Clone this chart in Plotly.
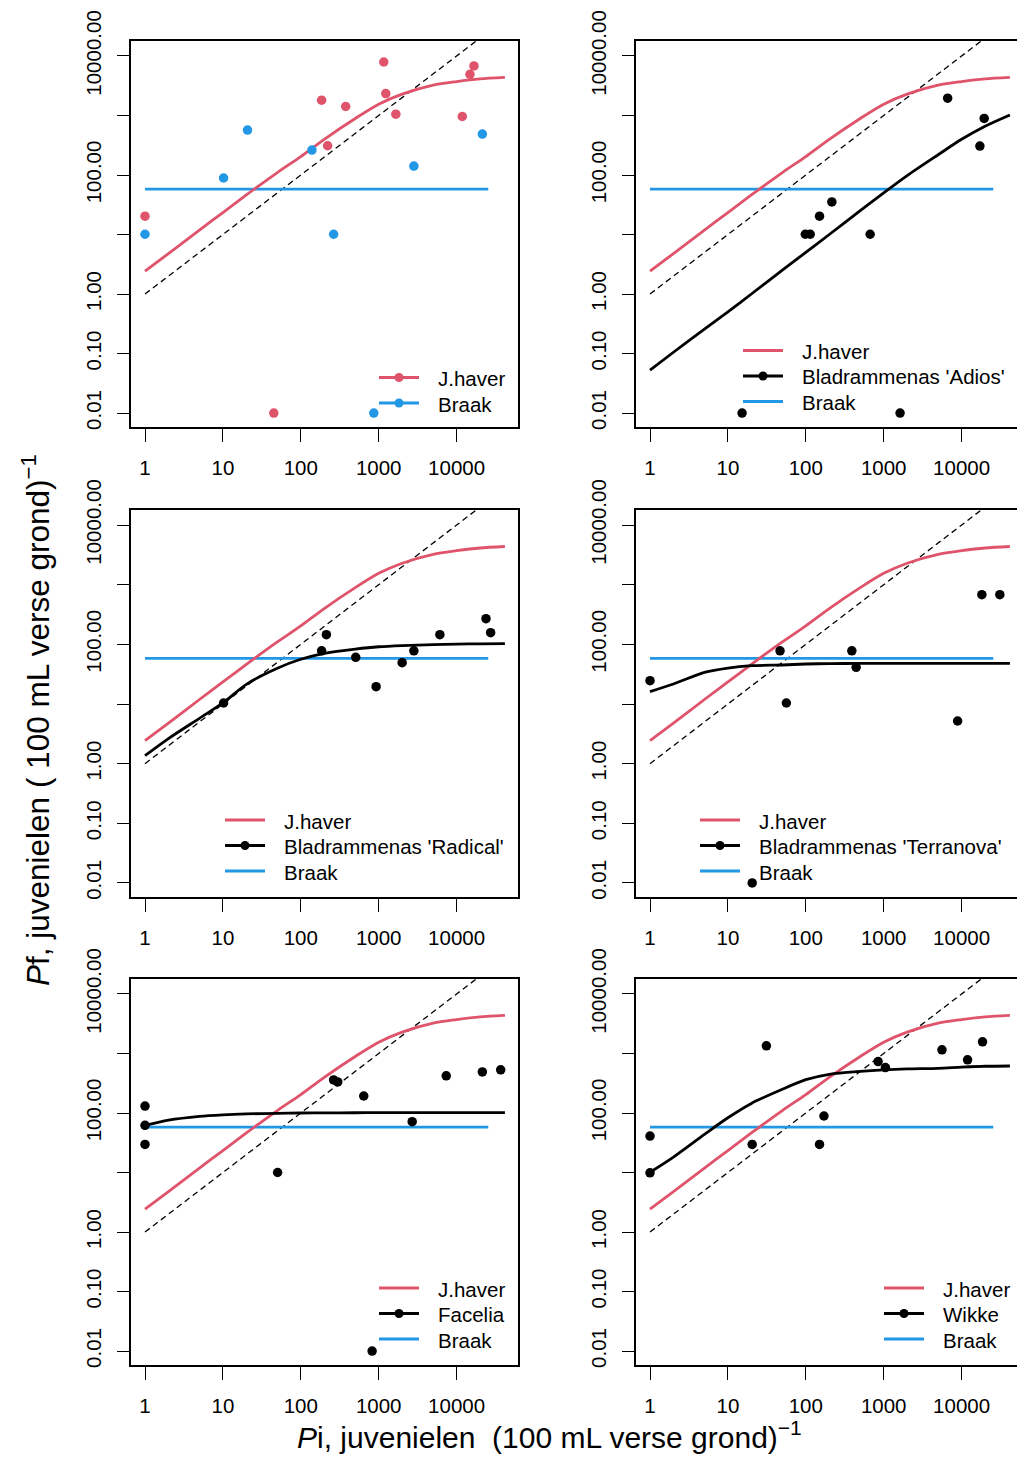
import plotly.graph_objects as go

# ---------------- data ----------------
# Pi sample grid used for the fitted response curves
PI_GRID = [1, 2, 5, 10, 20, 50, 100, 200, 500, 1000, 2000, 5000, 10000, 20000, 41700]

# fitted Pf curves on PI_GRID
JHAVER_FIT = [2.43, 4.79, 11.9, 23.4, 46.2, 110, 204, 398, 891, 1549, 2291, 3236, 3715, 4121, 4365]
ADIOS_FIT = [0.0525, 0.105, 0.257, 0.501, 1.0, 2.51, 5.01, 10.0, 25.1, 50.1, 97.7, 219, 398, 661, 1023]
RADICAL_FIT = [1.36, 2.63, 5.75, 10.4, 21.4, 39.8, 56.2, 70.8, 83.2, 91.2, 95.5, 98.9, 101, 102, 103]
TERRANOVA_FIT = [16.1, 21.6, 33.9, 40.1, 43.9, 45.1, 46.8, 47.6, 47.9, 48.1, 48.1, 48.1, 48.1, 48.1, 48.1]
FACELIA_FIT = [61.7, 75.9, 88.1, 93.3, 96.6, 98.9, 100, 100.7, 101, 101.2, 101.4, 101.4, 101.4, 101.4, 101.4]
WIKKE_FIT = [10.1, 18.2, 43.7, 83.2, 145, 251, 363, 447, 501, 531, 550, 562, 589, 610, 617]

# fallow (Braak) mean level and its Pi span
BRAAK_PI = [1, 25500]
BRAAK_PF = [58, 58]

# 1:1 reference line Pf = Pi
REF_PI = [1, 41700]
REF_PF = [1, 41700]

# observations (zero counts shown at 0.01)
JHAVER_PI = [1, 45, 185, 221, 377, 1162, 1233, 1660, 11830, 14840, 16700]
JHAVER_PF = [20.3, 0.01, 1807, 310, 1416, 7930, 2337, 1052, 962, 4930, 6800]
BRAAK_OBS_PI = [1, 10.2, 20.7, 139, 264, 865, 2827, 21400]
BRAAK_OBS_PF = [10.1, 89, 568, 262, 10.1, 0.01, 141, 487]
ADIOS_PI = [15.2, 98.6, 114, 150, 216, 670, 1623, 6620, 17170, 19500]
ADIOS_PF = [0.01, 10.1, 10.1, 20.3, 35.3, 10.1, 0.01, 1952, 306, 891]
RADICAL_PI = [10.2, 185, 213, 507, 926, 2000, 2827, 6100, 23840, 27350]
RADICAL_PF = [10.4, 78, 145, 60.5, 19.5, 49.3, 78, 145, 269, 157]
TERRANOVA_PI = [1, 20.5, 46.7, 56.3, 390, 443, 8890, 18200, 30970]
TERRANOVA_PF = [24.6, 0.01, 78, 10.4, 78, 41.2, 5.19, 680, 680]
FACELIA_PI = [1, 1, 1, 50.4, 264, 298, 643, 823, 2690, 7360, 21400, 36800]
FACELIA_PF = [131, 62, 29.6, 10, 360, 333, 193, 0.01, 71.4, 421, 491, 531]
WIKKE_PI = [1, 1, 20.5, 31.2, 150, 171, 848, 1052, 5600, 11930, 18570]
WIKKE_PF = [41, 9.9, 29.6, 1347, 29.6, 89, 733, 581, 1153, 782, 1573]

X_TICKS = [1, 10, 100, 1000, 10000]
X_TICKTEXT = ["1", "10", "100", "1000", "10000"]
Y_TICKS = [0.01, 0.1, 1, 100, 10000]
Y_TICKTEXT = ["0.01", "0.10", "1.00", "100.00", "10000.00"]
Y_UNLABELLED = [10, 1000]

# ---------------- style ----------------
W, H = 1017, 1459
RED = "#DF536B"
BLUE = "#2297E6"
BLACK = "#000000"
FONT = "Liberation Sans, Arial, sans-serif"
TICK_SIZE = 20.5

COLS = [(131, 518), (636, 1017)]      # panel box, pixels
ROWS = [(41, 427), (510, 897), (979, 1365)]
X_ONE = [145, 650]                     # pixel position of Pi = 1
DEC_X = 77.9                           # pixels per decade on x
Y_RANGE = [-2.235, 4.252]

panels = [
    dict(row=0, col=0, fit=None, pi=None, pf=None,
         legend=[("J.haver", RED, True), ("Braak", BLUE, True)], leg=(379, 377.5)),
    dict(row=0, col=1, fit=ADIOS_FIT, pi=ADIOS_PI, pf=ADIOS_PF,
         legend=[("J.haver", RED, False), ("Bladrammenas 'Adios'", BLACK, True), ("Braak", BLUE, False)],
         leg=(743, 350.5)),
    dict(row=1, col=0, fit=RADICAL_FIT, pi=RADICAL_PI, pf=RADICAL_PF,
         legend=[("J.haver", RED, False), ("Bladrammenas 'Radical'", BLACK, True), ("Braak", BLUE, False)],
         leg=(225, 820)),
    dict(row=1, col=1, fit=TERRANOVA_FIT, pi=TERRANOVA_PI, pf=TERRANOVA_PF,
         legend=[("J.haver", RED, False), ("Bladrammenas 'Terranova'", BLACK, True), ("Braak", BLUE, False)],
         leg=(700, 820)),
    dict(row=2, col=0, fit=FACELIA_FIT, pi=FACELIA_PI, pf=FACELIA_PF,
         legend=[("J.haver", RED, False), ("Facelia", BLACK, True), ("Braak", BLUE, False)],
         leg=(379, 1288)),
    dict(row=2, col=1, fit=WIKKE_FIT, pi=WIKKE_PI, pf=WIKKE_PF,
         legend=[("J.haver", RED, False), ("Wikke", BLACK, True), ("Braak", BLUE, False)],
         leg=(884, 1288)),
]


def px_x(x):
    return x / W


def px_y(y):
    return 1 - y / H


fig = go.Figure()
shapes = []
annotations = []

for i, p in enumerate(panels):
    n = i + 1
    sfx = "" if n == 1 else str(n)
    xref, yref = "x" + sfx, "y" + sfx
    c0, c1 = COLS[p["col"]]
    r0, r1 = ROWS[p["row"]]
    x_one = X_ONE[p["col"]]
    x_range = [-(x_one - c0) / DEC_X, (c1 - x_one) / DEC_X]

    # 1:1 line
    fig.add_trace(go.Scatter(x=REF_PI, y=REF_PF, mode="lines", xaxis=xref, yaxis=yref,
                             line=dict(color=BLACK, width=1.3, dash="6px,4px"),
                             showlegend=False, hoverinfo="skip"))
    # fallow level
    fig.add_trace(go.Scatter(x=BRAAK_PI, y=BRAAK_PF, mode="lines", xaxis=xref, yaxis=yref,
                             line=dict(color=BLUE, width=2.8), showlegend=False))
    # oat reference fit
    fig.add_trace(go.Scatter(x=PI_GRID, y=JHAVER_FIT, mode="lines", xaxis=xref, yaxis=yref,
                             line=dict(color=RED, width=2.8, shape="spline", smoothing=0.8),
                             showlegend=False))
    if p["fit"] is not None:
        fig.add_trace(go.Scatter(x=PI_GRID, y=p["fit"], mode="lines", xaxis=xref, yaxis=yref,
                                 line=dict(color=BLACK, width=2.8, shape="spline", smoothing=0.8),
                                 showlegend=False))
        fig.add_trace(go.Scatter(x=p["pi"], y=p["pf"], mode="markers", xaxis=xref, yaxis=yref,
                                 marker=dict(color=BLACK, size=9.5), showlegend=False,
                                 cliponaxis=False))
    else:
        fig.add_trace(go.Scatter(x=JHAVER_PI, y=JHAVER_PF, mode="markers", xaxis=xref, yaxis=yref,
                                 marker=dict(color=RED, size=9.5), showlegend=False,
                                 cliponaxis=False))
        fig.add_trace(go.Scatter(x=BRAAK_OBS_PI, y=BRAAK_OBS_PF, mode="markers", xaxis=xref,
                                 yaxis=yref, marker=dict(color=BLUE, size=9.5), showlegend=False,
                                 cliponaxis=False))

    fig.layout["xaxis" + sfx] = dict(
        domain=[px_x(c0), min(1.0, px_x(c1))], anchor=yref, type="log", range=x_range,
        showline=True, linecolor=BLACK, linewidth=1.5, mirror=True,
        ticks="outside", ticklen=13, tickwidth=1.4, tickcolor=BLACK,
        tickvals=X_TICKS, ticktext=X_TICKTEXT, ticklabelstandoff=9,
        tickfont=dict(family=FONT, size=TICK_SIZE, color=BLACK),
        showgrid=False, zeroline=False, fixedrange=True, automargin=False,
    )
    fig.layout["yaxis" + sfx] = dict(
        domain=[px_y(r1), px_y(r0)], anchor=xref, type="log", range=Y_RANGE,
        showline=True, linecolor=BLACK, linewidth=1.5, mirror=(p["col"] == 0),
        ticks="outside", ticklen=12, tickwidth=1.4, tickcolor=BLACK,
        tickvals=Y_TICKS, ticktext=Y_TICKTEXT, tickangle=-90, ticklabelstandoff=8,
        minor=dict(tickmode="array", tickvals=Y_UNLABELLED, ticks="outside", ticklen=12,
                   tickwidth=1.4, tickcolor=BLACK, showgrid=False),
        tickfont=dict(family=FONT, size=TICK_SIZE, color=BLACK),
        showgrid=False, zeroline=False, fixedrange=True, automargin=False,
    )

    # legend drawn inside the panel
    lx, ly = p["leg"]
    for k, (label, color, dot) in enumerate(p["legend"]):
        yy = ly + k * 25.5
        shapes.append(dict(type="line", xref="paper", yref="paper",
                           x0=px_x(lx), x1=px_x(lx + 40), y0=px_y(yy), y1=px_y(yy),
                           line=dict(color=color, width=3)))
        if dot:
            cx = lx + 20
            shapes.append(dict(type="circle", xref="paper", yref="paper",
                               x0=px_x(cx - 4.5), x1=px_x(cx + 4.5),
                               y0=px_y(yy + 4.5), y1=px_y(yy - 4.5),
                               fillcolor=color, line=dict(color=color, width=0)))
        annotations.append(dict(text=label, xref="paper", yref="paper",
                                x=px_x(lx + 57), y=px_y(yy + 1), xanchor="left", yanchor="middle",
                                showarrow=False,
                                font=dict(family=FONT, size=TICK_SIZE, color=BLACK)))

# shared axis titles
annotations.append(dict(
    text="<i>P</i>i, juvenielen\u00a0\u00a0(100 mL verse grond)<sup>\u22121</sup>",
    xref="paper", yref="paper", x=px_x(549), y=px_y(1435), xanchor="center", yanchor="middle",
    showarrow=False, font=dict(family=FONT, size=30, color=BLACK)))
annotations.append(dict(
    text="<i>P</i>f, juvenielen ( 100 mL verse grond)<sup>\u22121</sup>",
    xref="paper", yref="paper", x=px_x(36), y=px_y(720), xanchor="center", yanchor="middle",
    textangle=-90, showarrow=False, font=dict(family=FONT, size=31.5, color=BLACK)))

fig.update_layout(
    width=W, height=H, margin=dict(l=0, r=0, t=0, b=0, autoexpand=False),
    paper_bgcolor="white", plot_bgcolor="white",
    shapes=shapes, annotations=annotations, showlegend=False,
    font=dict(family=FONT, color=BLACK),
)

fig.write_html("out.html", config={"displayModeBar": False})
